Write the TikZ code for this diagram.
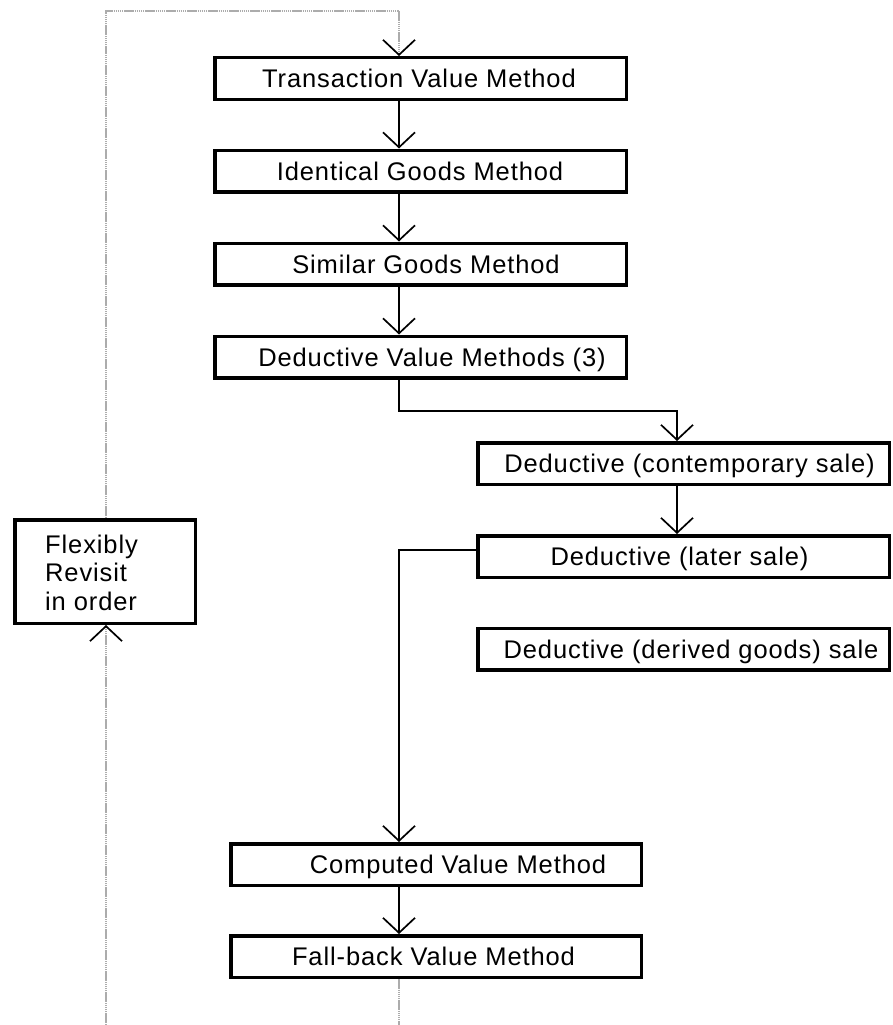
\documentclass[tikz,border=0pt]{standalone}
\usepackage{fontspec}
\setmainfont{Liberation Sans}[LetterSpace=3.5]
\usetikzlibrary{arrows.meta}
\begin{document}
\begin{tikzpicture}[x=1pt,y=-1pt,
  box/.style={draw, line width=3.5pt, inner sep=0pt, minimum height=41.5pt},
  lbl/.style={anchor=base, inner sep=0pt, font=\fontsize{25.5}{28.5}\selectfont},
  tipv/.style={-{Straight Barb[length=15pt,width=32pt,line width=1.7pt,color=black]}},
  conn/.style={line width=1.7pt, tipv},
  gline/.style={draw=gray!65, line width=1.1pt, dash pattern=on 1.5pt off 0.6pt}
]
\useasboundingbox (0,0) rectangle (893,1025);

% column coordinates
\coordinate (colA) at (399,0);
\coordinate (colB) at (677,0);
\coordinate (colL) at (106,0);

% main column boxes
\node[box, minimum width=411.5pt] (tv) at (420.5,78.5) {};
\node[box, minimum width=411.5pt] (ig) at (420.5,171) {};
\node[box, minimum width=411.5pt] (sg) at (420.5,264) {};
\node[box, minimum width=411.5pt] (dv) at (420.5,357) {};
\node[lbl] (tvt) at (419,87.6) {Transaction Value Method};
\node[lbl] (igt) at (420,180.1) {Identical Goods Method};
\node[lbl] (sgt) at (426,273.1) {Similar Goods Method};
\node[lbl] (dvt) at (432,366.1) {Deductive Value Methods (3)};

% right column boxes
\node[box, minimum width=411.5pt] (con) at (683.5,463.5) {};
\node[box, minimum width=411.5pt] (lat) at (683.5,556.5) {};
\node[box, minimum width=411.5pt] (der) at (683.5,649) {};
\node[lbl] (cont) at (689.5,472.6) {Deductive (contemporary sale)};
\node[lbl] (latt) at (679.5,565.6) {Deductive (later sale)};
\node[lbl] (dert) at (691,658.1) {Deductive (derived goods) sale};

% lower boxes
\node[box, minimum width=410.5pt] (cv) at (436,864.5) {};
\node[box, minimum width=410.5pt] (fb) at (436,956.5) {};
\node[lbl] (cvt) at (458,873.6) {Computed Value Method};
\node[lbl] (fbt) at (433.5,965.6) {Fall-back Value Method};

% flexibly box
\node[box, minimum width=180.5pt, minimum height=103.5pt] (flex) at (105,571.5) {};
\node[anchor=base west, inner sep=0pt, align=left,
      font=\fontsize{25.5}{28.5}\selectfont] (flext) at (45,610) {Flexibly\\Revisit\\in order};

% connectors
\draw[conn] (tv.south -| colA) -- (ig.north -| colA);
\draw[conn] (ig.south -| colA) -- (sg.north -| colA);
\draw[conn] (sg.south -| colA) -- (dv.north -| colA);
\coordinate (k1) at (399,411);
\draw[conn] (dv.south -| colA) -- (k1) -| (con.north -| colB);
\draw[conn] (con.south -| colB) -- (lat.north -| colB);
\draw[conn] ([yshift=6.5pt]lat.west) -| (cv.north -| colA);
\draw[conn] (cv.south -| colA) -- (fb.north -| colA);

% grey return loop
\coordinate (ktop) at (106,11);
\coordinate (bot1) at (106,1025);
\coordinate (bot2) at (399,1025);
\draw[gline] (fb.south -| colA) -- (bot2);
\draw[gline, tipv] (bot1) -- (flex.south -| colL);
\draw[gline, tipv] (flex.north -| colL) -- (ktop) -| (tv.north -| colA);
\end{tikzpicture}
\end{document}
